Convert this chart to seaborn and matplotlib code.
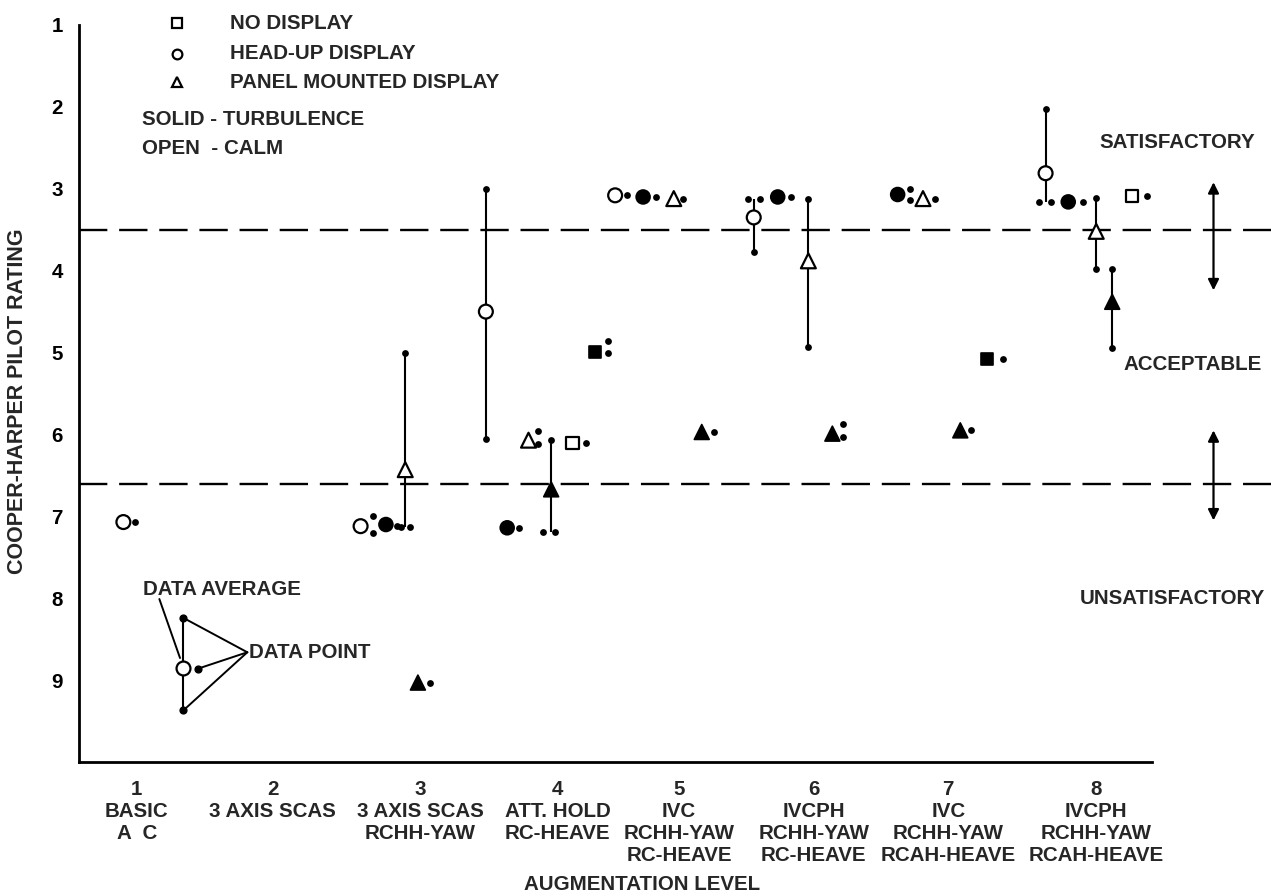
import matplotlib
matplotlib.use('Agg')
import matplotlib.pyplot as plt
import seaborn as sns
import pandas as pd

# average rating of each configuration (marker)
avg_x = [0.83, 2.61, 2.80, 2.945, 3.04, 3.55, 3.71, 3.87, 4.04, 4.20, 4.37, 4.52, 4.73, 4.96,
         5.17, 5.56, 5.74, 5.97, 6.15, 6.64, 6.83, 7.11, 7.31, 7.75, 7.92, 8.13, 8.25, 8.40]
avg_y = [7.07, 7.12, 7.10, 6.43, 9.03, 4.50, 7.14, 6.07, 6.67, 6.10, 4.99, 3.08, 3.10, 3.12,
         5.97, 3.35, 3.10, 3.88, 5.99, 3.07, 3.12, 5.95, 5.08, 2.81, 3.16, 3.52, 4.38, 3.09]
avg_disp = ['hud', 'hud', 'hud', 'pmd', 'pmd', 'hud', 'hud', 'pmd', 'pmd', 'none', 'none', 'hud', 'hud', 'pmd',
            'pmd', 'hud', 'hud', 'pmd', 'pmd', 'hud', 'pmd', 'pmd', 'none', 'hud', 'hud', 'pmd', 'pmd', 'none']
avg_cond = ['calm', 'calm', 'turb', 'calm', 'turb', 'calm', 'turb', 'calm', 'turb', 'calm', 'turb', 'calm', 'turb', 'calm',
            'turb', 'calm', 'turb', 'calm', 'turb', 'turb', 'calm', 'turb', 'turb', 'calm', 'turb', 'calm', 'turb', 'calm']
avg_line = [False, False, False, True, False, True, False, False, True, False, False, False, False, False,
            False, True, False, True, False, False, False, False, False, True, False, True, True, False]

# individual pilot ratings (small dots), grouped by configuration
pt_grp = [0, 1, 1, 2, 3, 3, 3, 4, 5, 5, 6, 7, 7, 8, 8, 8, 9, 10, 10, 11, 12, 13, 14,
          15, 15, 15, 16, 17, 17, 18, 18, 19, 19, 20, 21, 22, 23, 23, 23, 24, 25, 25, 26, 26, 27]
pt_x = [0.917, 2.704, 2.704, 2.884, 2.945, 2.914, 2.982, 3.132, 3.55, 3.55, 3.80, 3.943, 3.943,
        4.04, 3.98, 4.07, 4.30, 4.47, 4.47, 4.61, 4.83, 5.03, 5.26,
        5.52, 5.61, 5.56, 5.84, 5.97, 5.97, 6.23, 6.23, 6.73, 6.73, 6.92, 7.19, 7.43,
        7.75, 7.70, 7.79, 8.03, 8.13, 8.13, 8.25, 8.25, 8.51]
pt_y = [7.07, 7.00, 7.20, 7.12, 5.00, 7.13, 7.13, 9.03, 3.00, 6.06, 7.14, 5.96, 6.12,
        6.07, 7.19, 7.19, 6.10, 4.86, 5.00, 3.08, 3.10, 3.12, 5.97,
        3.12, 3.12, 3.77, 3.10, 3.12, 4.93, 5.87, 6.03, 3.00, 3.14, 3.12, 5.94, 5.08,
        2.02, 3.16, 3.16, 3.16, 3.11, 3.98, 3.98, 4.95, 3.09]

level_pos = [0.93, 1.95, 3.06, 4.09, 5.00, 6.01, 7.02, 8.13]
level_labels = ['1\nBASIC\nA  C', '2\n3 AXIS SCAS', '3\n3 AXIS SCAS\nRCHH-YAW', '4\nATT. HOLD\nRC-HEAVE',
                '5\nIVC\nRCHH-YAW\nRC-HEAVE', '6\nIVCPH\nRCHH-YAW\nRC-HEAVE',
                '7\nIVC\nRCHH-YAW\nRCAH-HEAVE', '8\nIVCPH\nRCHH-YAW\nRCAH-HEAVE']
boundaries = [1.5, 2.5, 3.5, 4.5, 5.5, 6.5, 7.5, 8.55]
rating_ticks = [1, 2, 3, 4, 5, 6, 7, 8, 9]
limits = [3.5, 6.6]

# key example: data average with its data points
key_avg_x, key_avg_y = 1.28, 8.85
key_pt_x = [1.28, 1.39, 1.28]
key_pt_y = [8.24, 8.86, 9.37]

sns.set_style('white')
plt.rcParams['font.family'] = ['Liberation Sans', 'DejaVu Sans']
plt.rcParams['font.weight'] = 'bold'
FS = 14.8

avg = pd.DataFrame({'x': avg_x, 'y': avg_y, 'disp': avg_disp, 'cond': avg_cond, 'line': avg_line})
pts = pd.DataFrame({'grp': pt_grp, 'x': pt_x, 'y': pt_y})

fig = plt.figure(figsize=(12.71, 8.96), dpi=100)
ax = fig.add_axes([79.4 / 1271, (896 - 762) / 896, 1 - 79.4 / 1271, 762 / 896])

# range lines for configurations with spread ratings
span = pts.groupby('grp')['y'].agg(['min', 'max'])
lined = avg[avg['line']]
ax.vlines(lined['x'], span.loc[lined.index, 'min'], span.loc[lined.index, 'max'],
          color='black', lw=1.5, zorder=2)

sns.scatterplot(data=pts, x='x', y='y', color='black', s=24, linewidth=0, ax=ax, zorder=3, legend=False)

marks = {'none': 's', 'hud': 'o', 'pmd': '^'}
sizes = {'none': 75, 'hud': 100, 'pmd': 115}
sns.scatterplot(data=avg[avg['cond'] == 'turb'], x='x', y='y', style='disp', markers=marks,
                size='disp', sizes=sizes, color='black', edgecolor='black', linewidth=1.2,
                ax=ax, zorder=4, legend=False)
sns.scatterplot(data=avg[avg['cond'] == 'calm'], x='x', y='y', style='disp', markers=marks,
                size='disp', sizes=sizes, color='white', edgecolor='black', linewidth=1.6,
                ax=ax, zorder=4, legend=False)

for lim in limits:
    ax.axhline(lim, color='black', lw=1.7, dashes=(12, 5), zorder=1)

# axes
ax.set_xlim(0.5, 0.5 + 1191 / 133.2)
ax.set_ylim(10, 1 - 25 / 81.9)
for s in ['top', 'right']:
    ax.spines[s].set_visible(False)
ax.spines['left'].set_bounds(1, 10)
ax.spines['bottom'].set_bounds(0.5, 8.55)
for s in ['left', 'bottom']:
    ax.spines[s].set_linewidth(2.0)
    ax.spines[s].set_color('black')

ax.set_yticks(rating_ticks)
ax.set_yticklabels([str(r) for r in rating_ticks], fontsize=FS, fontweight='bold')
ax.tick_params(axis='y', direction='in', length=5, width=1.5, pad=12, colors='black')
ax.set_xticks(boundaries)
ax.set_xticklabels([''] * len(boundaries))
ax.tick_params(axis='x', which='major', direction='in', length=7, width=1.5, colors='black')
ax.set_xticks(level_pos, level_labels, minor=True)
ax.tick_params(axis='x', which='minor', length=0, pad=13, labelsize=FS)
for t in ax.get_xticklabels(minor=True):
    t.set_fontweight('bold')
    t.set_linespacing(1.2)

ax.set_ylabel('COOPER-HARPER PILOT RATING', fontsize=15.5, fontweight='bold')
ax.yaxis.set_label_coords(-0.043, 0.474)
ax.set_xlabel('AUGMENTATION LEVEL', fontsize=FS, fontweight='bold')
ax.xaxis.set_label_coords(0.472, -0.148)

# legend in upper left
leg_mark = ['s', 'o', '^']
leg_text = ['NO DISPLAY', 'HEAD-UP DISPLAY', 'PANEL MOUNTED DISPLAY']
leg_y = [0.98, 1.35, 1.70]
for m, t, yy in zip(leg_mark, leg_text, leg_y):
    ax.plot([1.23], [yy], marker=m, ms=7, mfc='white', mec='black', mew=1.6, ls='none', clip_on=False)
    ax.text(1.63, yy, t, fontsize=FS, fontweight='bold', va='center', ha='left')
ax.text(0.97, 2.15, 'SOLID - TURBULENCE', fontsize=FS, fontweight='bold', va='center', ha='left')
ax.text(0.97, 2.51, 'OPEN  - CALM', fontsize=FS, fontweight='bold', va='center', ha='left')

# rating regions
ax.text(9.32, 2.43, 'SATISFACTORY', fontsize=FS, fontweight='bold', ha='right', va='center')
ax.text(9.37, 5.15, 'ACCEPTABLE', fontsize=FS, fontweight='bold', ha='right', va='center')
ax.text(9.40, 8.0, 'UNSATISFACTORY', fontsize=FS, fontweight='bold', ha='right', va='center')
arrow = dict(arrowstyle='<|-|>', color='black', lw=1.6, mutation_scale=16, shrinkA=0, shrinkB=0)
ax.annotate('', xy=(9.01, 2.92), xytext=(9.01, 4.24), arrowprops=arrow)
ax.annotate('', xy=(9.01, 5.95), xytext=(9.01, 7.05), arrowprops=arrow)

# key example
ax.vlines(key_avg_x, min(key_pt_y), max(key_pt_y), color='black', lw=1.5, zorder=2)
ax.scatter(key_pt_x, key_pt_y, color='black', s=24, zorder=3)
ax.scatter([key_avg_x], [key_avg_y], marker='o', s=100, color='white', edgecolor='black', linewidth=1.6, zorder=4)
for kx, ky in zip(key_pt_x, key_pt_y):
    ax.plot([1.76, kx], [8.66, ky], color='black', lw=1.4, zorder=2)
ax.plot([1.10, 1.255], [8.01, 8.73], color='black', lw=1.4, zorder=2)
ax.text(0.98, 7.89, 'DATA AVERAGE', fontsize=FS, fontweight='bold', ha='left', va='center')
ax.text(1.77, 8.66, 'DATA POINT', fontsize=FS, fontweight='bold', ha='left', va='center')

fig.savefig('out.png', dpi=100)
